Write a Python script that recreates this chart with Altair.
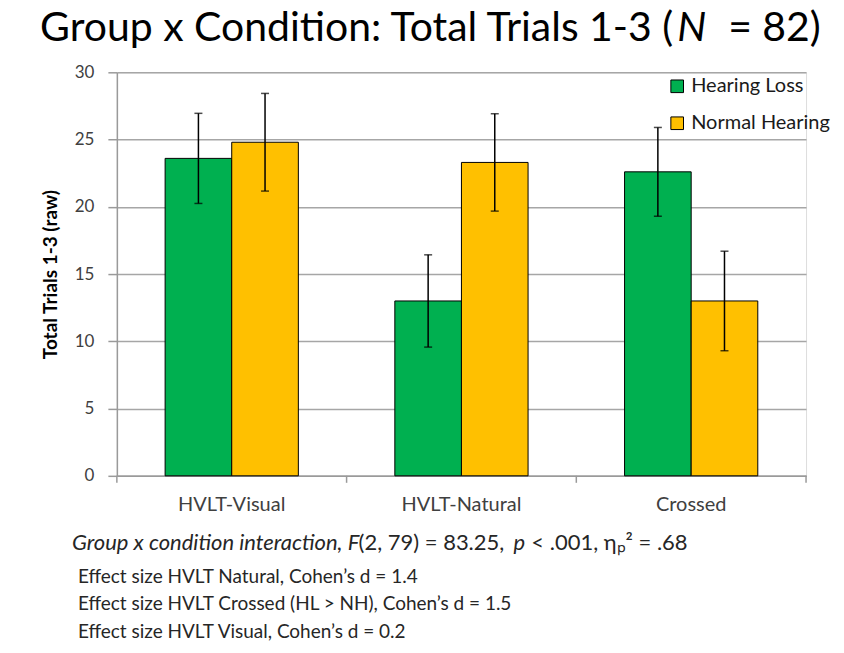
import altair as alt
import pandas as pd

conditions = ["HVLT-Visual", "HVLT-Natural", "Crossed"]
groups = ["Hearing Loss", "Normal Hearing"]
hl_means = [23.6, 13.0, 22.6]
nh_means = [24.8, 23.3, 13.0]
hl_err = [3.35, 3.43, 3.3]
nh_err = [3.63, 3.62, 3.7]
y_ticks = [0, 5, 10, 15, 20, 25, 30]
boundaries = [0, 1, 2, 3]

title_main = "Group x Condition: Total Trials 1-3 ("
title_n = "N"
title_tail = "= 82)"
stat_a = "Group x condition interaction, F"
stat_b = "(2, 79) = 83.25,"
stat_c = "p"
stat_d = "< .001, η\u209a\u00b2 = .68"
effect_lines = [
    "Effect size HVLT Natural, Cohen\u2019s d = 1.4",
    "Effect size HVLT Crossed (HL > NH), Cohen\u2019s d = 1.5",
    "Effect size HVLT Visual, Cohen\u2019s d = 0.2",
]

rows = []
for i, c in enumerate(conditions):
    rows.append({"cond": c, "group": groups[0], "mean": hl_means[i],
                 "lo": hl_means[i] - hl_err[i], "hi": hl_means[i] + hl_err[i]})
    rows.append({"cond": c, "group": groups[1], "mean": nh_means[i],
                 "lo": nh_means[i] - nh_err[i], "hi": nh_means[i] + nh_err[i]})
df = pd.DataFrame(rows)

FONT = "Lato"
W, H = 690, 404

xscale = alt.Scale(domain=conditions, paddingInner=0.42, paddingOuter=0.21)
xoff = alt.Scale(domain=groups, paddingInner=0, paddingOuter=0)
yscale = alt.Scale(domain=[0, 30], nice=False)

base = alt.Chart(df)

xenc = alt.X("cond:N", scale=xscale, sort=conditions, title=None,
             axis=alt.Axis(labelAngle=0, labelFontSize=20, labelColor="#404040",
                           labelFont=FONT, ticks=False, domainColor="#9a9a9a",
                           domainWidth=1.5, labelPadding=19))
xoenc = alt.XOffset("group:N", scale=xoff, sort=groups)

bars = base.mark_bar(stroke="black", strokeWidth=1).encode(
    x=xenc,
    xOffset=xoenc,
    y=alt.Y("mean:Q", scale=yscale,
            axis=alt.Axis(values=y_ticks, title="Total Trials 1-3 (raw)",
                          titleFont=FONT, titleFontSize=19, titleFontWeight="bold",
                          titleColor="black", titleX=-66, titleY=H / 2,
                          titleAngle=-90, titleAlign="center", titleBaseline="middle",
                          labelFont=FONT, labelFontSize=17, labelColor="#404040",
                          labelPadding=14, tickSize=9, tickColor="#9a9a9a", tickWidth=1.5,
                          domainColor="#9a9a9a", domainWidth=1.5,
                          grid=True, gridColor="#a6a6a6", gridWidth=1.5)),
    color=alt.Color("group:N", scale=alt.Scale(domain=groups, range=["#00B050", "#FFC000"]),
                    legend=alt.Legend(title=None, orient="none", legendX=551, legendY=4,
                                      symbolType="square", symbolSize=160,
                                      symbolStrokeColor="black", symbolStrokeWidth=1,
                                      labelFont=FONT, labelFontSize=20, labelColor="#1a1a1a",
                                      rowPadding=17, labelOffset=4, padding=0)),
)

rules = base.mark_rule(color="black", strokeWidth=1.5).encode(
    x=xenc, xOffset=xoenc,
    y=alt.Y("lo:Q", scale=yscale, title="Total Trials 1-3 (raw)"),
    y2="hi:Q",
)
cap_lo = base.mark_tick(color="black", thickness=1.5, size=8).encode(
    x=xenc, xOffset=xoenc,
    y=alt.Y("lo:Q", scale=yscale, title="Total Trials 1-3 (raw)"),
)
cap_hi = base.mark_tick(color="black", thickness=1.5, size=8).encode(
    x=xenc, xOffset=xoenc,
    y=alt.Y("hi:Q", scale=yscale, title="Total Trials 1-3 (raw)"),
)

main = alt.layer(bars, rules, cap_lo, cap_hi)

ticks = alt.Chart(pd.DataFrame({"b": boundaries})).mark_rule(
    color="#9a9a9a", strokeWidth=1.5).encode(
    x=alt.X("b:Q", scale=alt.Scale(domain=[0, 3], nice=False), axis=None),
    y=alt.value(H), y2=alt.value(H + 7),
)

one = alt.Data(values=[{}])


def txt(text, x, y, size, align="left", style="normal", color="#262626", weight="normal"):
    return alt.Chart(one).mark_text(
        text=text, align=align, baseline="alphabetic", font=FONT, fontSize=size,
        fontStyle=style, fontWeight=weight, color=color,
    ).encode(x=alt.value(x), y=alt.value(y))


texts = [
    txt(title_main, 557, -31, 41, align="right", color="black"),
    txt(title_n, 561, -31, 41, style="italic", color="black"),
    txt(title_tail, 612, -31, 41, color="black"),
    txt(stat_a, -45, 478, 22, style="italic"),
    txt(stat_b, 242, 478, 22),
    txt(stat_c, 397, 478, 22, style="italic"),
    txt(stat_d, 415, 478, 22),
]
for i, line in enumerate(effect_lines):
    texts.append(txt(line, -39, 511 + i * 27.5, 19))

chart = alt.layer(main, ticks, *texts).resolve_scale(x="independent").properties(
    width=W, height=H,
    autosize=alt.AutoSizeParams(type="none"),
    padding={"left": 109, "top": 64, "right": 30, "bottom": 170},
).configure_view(stroke=None).configure(background="white")

chart.save("out.html", embed_options={"renderer": "svg", "actions": False})
